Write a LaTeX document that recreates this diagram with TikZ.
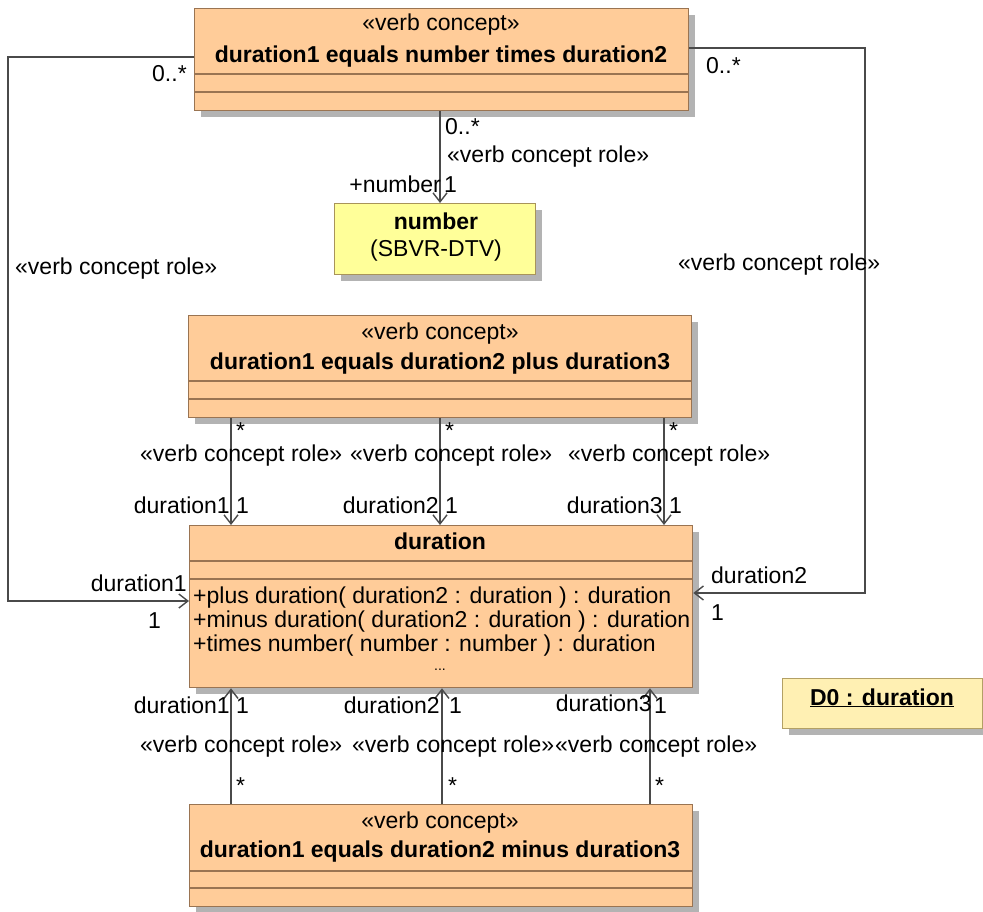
\documentclass[tikz,border=0pt]{standalone}
\usepackage{fontspec}
\setmainfont{Liberation Sans}
\usetikzlibrary{arrows.meta,shadows}
\definecolor{boxfill}{HTML}{FFCC99}
\definecolor{boxdraw}{HTML}{9A7452}
\definecolor{numfill}{HTML}{FFFF99}
\definecolor{numdraw}{HTML}{A8945A}
\definecolor{objfill}{HTML}{FFF0B3}
\definecolor{objdraw}{HTML}{B3A065}
\definecolor{linec}{HTML}{4A4A4A}
\definecolor{shadowc}{HTML}{B3B3B3}
\newcommand{\dfont}{\fontsize{23}{28}\selectfont}
\tikzset{
  shadowed/.style={drop shadow={shadow xshift=6pt,shadow yshift=-6pt,fill=shadowc,opacity=1}},
  umlbox/.style={draw=boxdraw,fill=boxfill,line width=1.3pt,anchor=north west,inner sep=0pt,shadowed},
  numbox/.style={draw=numdraw,fill=numfill,line width=1.3pt,anchor=north west,inner sep=0pt,shadowed},
  objbox/.style={draw=objdraw,fill=objfill,line width=1.3pt,anchor=north west,inner sep=0pt,shadowed},
  sepline/.style={draw=boxdraw,line width=1.3pt},
  conn/.style={draw=linec,line width=1.4pt,-{Straight Barb[length=9pt,width=14pt,line width=1.4pt]}},
  lbl/.style={inner sep=0pt,font=\dfont},
  lw/.style={lbl,anchor=base west},
  le/.style={lbl,anchor=base east},
  lc/.style={lbl,anchor=base},
}
\begin{document}
\begin{tikzpicture}[x=1pt,y=-1pt]
\useasboundingbox (0,0) rectangle (983,912);
% boxes
\node[umlbox,minimum width=494pt,minimum height=102pt] (top) at (194,8) {};
\node[numbox,minimum width=201pt,minimum height=71pt] (num) at (334,203) {};
\node[umlbox,minimum width=503pt,minimum height=102pt] (plus) at (188,315) {};
\node[umlbox,minimum width=503pt,minimum height=162pt] (dur) at (189,525) {};
\node[umlbox,minimum width=503pt,minimum height=102pt] (minus) at (189,804) {};
\node[objbox,minimum width=200pt,minimum height=50pt] (obj) at (782,678) {};
% compartment lines
\draw[sepline] ([yshift=-66pt]top.north west) -- ([yshift=-66pt]top.north east);
\draw[sepline] ([yshift=-84pt]top.north west) -- ([yshift=-84pt]top.north east);
\draw[sepline] ([yshift=-66pt]plus.north west) -- ([yshift=-66pt]plus.north east);
\draw[sepline] ([yshift=-84pt]plus.north west) -- ([yshift=-84pt]plus.north east);
\draw[sepline] ([yshift=-36pt]dur.north west) -- ([yshift=-36pt]dur.north east);
\draw[sepline] ([yshift=-54pt]dur.north west) -- ([yshift=-54pt]dur.north east);
\draw[sepline] ([yshift=-67pt]minus.north west) -- ([yshift=-67pt]minus.north east);
\draw[sepline] ([yshift=-84pt]minus.north west) -- ([yshift=-84pt]minus.north east);
% box texts
\node[lc] (t1) at (441,31) {«verb concept»};
\node[lc] (t2) at (441,63) {\bfseries duration1 equals number times duration2};
\node[lc] (n1) at (436,230) {\bfseries number};
\node[lc] (n2) at (436,257) {(SBVR-DTV)};
\node[lc] (p1) at (440,339) {«verb concept»};
\node[lc] (p2) at (440,369) {\bfseries duration1 equals duration2 plus duration3};
\node[lc] (d1) at (440,549) {\bfseries duration};
\node[lw] (o1) at (193,603) {+plus duration( duration2 : duration ) : duration};
\node[lw] (o2) at (193,627) {+minus duration( duration2 : duration ) : duration};
\node[lw] (o3) at (193,651) {+times number( number : number ) : duration};
\node[lc,font=\fontsize{14}{16}\selectfont] (o4) at (440,670) {...};
\node[lc] (m1) at (440,828) {«verb concept»};
\node[lc] (m2) at (440,857) {\bfseries duration1 equals duration2 minus duration3};
\node[lc] (ob) at (882,705) {\bfseries\underline{D0 : duration}};
% connector coordinates
\coordinate (xa) at (440,0);
\coordinate (xp1) at (231,0);
\coordinate (xp2) at (440,0);
\coordinate (xp3) at (664,0);
\coordinate (xm1) at (231,0);
\coordinate (xm2) at (442,0);
\coordinate (xm3) at (650,0);
\coordinate (lt) at (8,57);
\coordinate (lb) at (8,601);
\coordinate (rt) at (865,48);
\coordinate (rb) at (865,593);
% connectors
\draw[conn] (top.south -| xa) -- (num.north -| xa);
\draw[conn] (plus.south -| xp1) -- (dur.north -| xp1);
\draw[conn] (plus.south -| xp2) -- (dur.north -| xp2);
\draw[conn] (plus.south -| xp3) -- (dur.north -| xp3);
\draw[conn] (minus.north -| xm1) -- (dur.south -| xm1);
\draw[conn] (minus.north -| xm2) -- (dur.south -| xm2);
\draw[conn] (minus.north -| xm3) -- (dur.south -| xm3);
\draw[conn] (top.west |- lt) -- (lt) -- (lb) -- (dur.west |- lb);
\draw[conn] (top.east |- rt) -- (rt) -- (rb) -- (dur.east |- rb);
% labels: top -> number
\node[lw] (a1) at (445,135) {0..*};
\node[lw] (a2) at (447,163) {«verb concept role»};
\node[le] (a3) at (441,193) {+number};
\node[lw] (a4) at (444,193) {1};
% labels: plus -> duration
\node[lw] (b1) at (236,438) {*};
\node[lw] (b2) at (445,438) {*};
\node[lw] (b3) at (669,438) {*};
\node[lw] (b4) at (140,461) {«verb concept role»};
\node[lw] (b5) at (350,461) {«verb concept role»};
\node[lw] (b6) at (568,461) {«verb concept role»};
\node[le] (b7) at (230,513) {duration1};
\node[lw] (b8) at (236,513) {1};
\node[le] (b9) at (439,513) {duration2};
\node[lw] (b10) at (445,513) {1};
\node[le] (b11) at (663,513) {duration3};
\node[lw] (b12) at (669,513) {1};
% labels: minus -> duration
\node[le] (c1) at (230,713) {duration1};
\node[lw] (c2) at (236,713) {1};
\node[le] (c3) at (440,713) {duration2};
\node[lw] (c4) at (449,713) {1};
\node[le] (c5) at (652,711) {duration3};
\node[lw] (c6) at (654,713) {1};
\node[lw] (c7) at (140,752) {«verb concept role»};
\node[lw] (c8) at (352,752) {«verb concept role»};
\node[lw] (c9) at (555,752) {«verb concept role»};
\node[lw] (c10) at (236,793) {*};
\node[lw] (c11) at (448,793) {*};
\node[lw] (c12) at (655,793) {*};
% labels: left connector
\node[lw] (e1) at (152,82) {0..*};
\node[lw] (e2) at (15,275) {«verb concept role»};
\node[le] (e3) at (187,591) {duration1};
\node[lw] (e4) at (148,628) {1};
% labels: right connector
\node[lw] (f1) at (706,74) {0..*};
\node[lw] (f2) at (678,271) {«verb concept role»};
\node[lw] (f3) at (711,583) {duration2};
\node[lw] (f4) at (711,620) {1};
\end{tikzpicture}
\end{document}
